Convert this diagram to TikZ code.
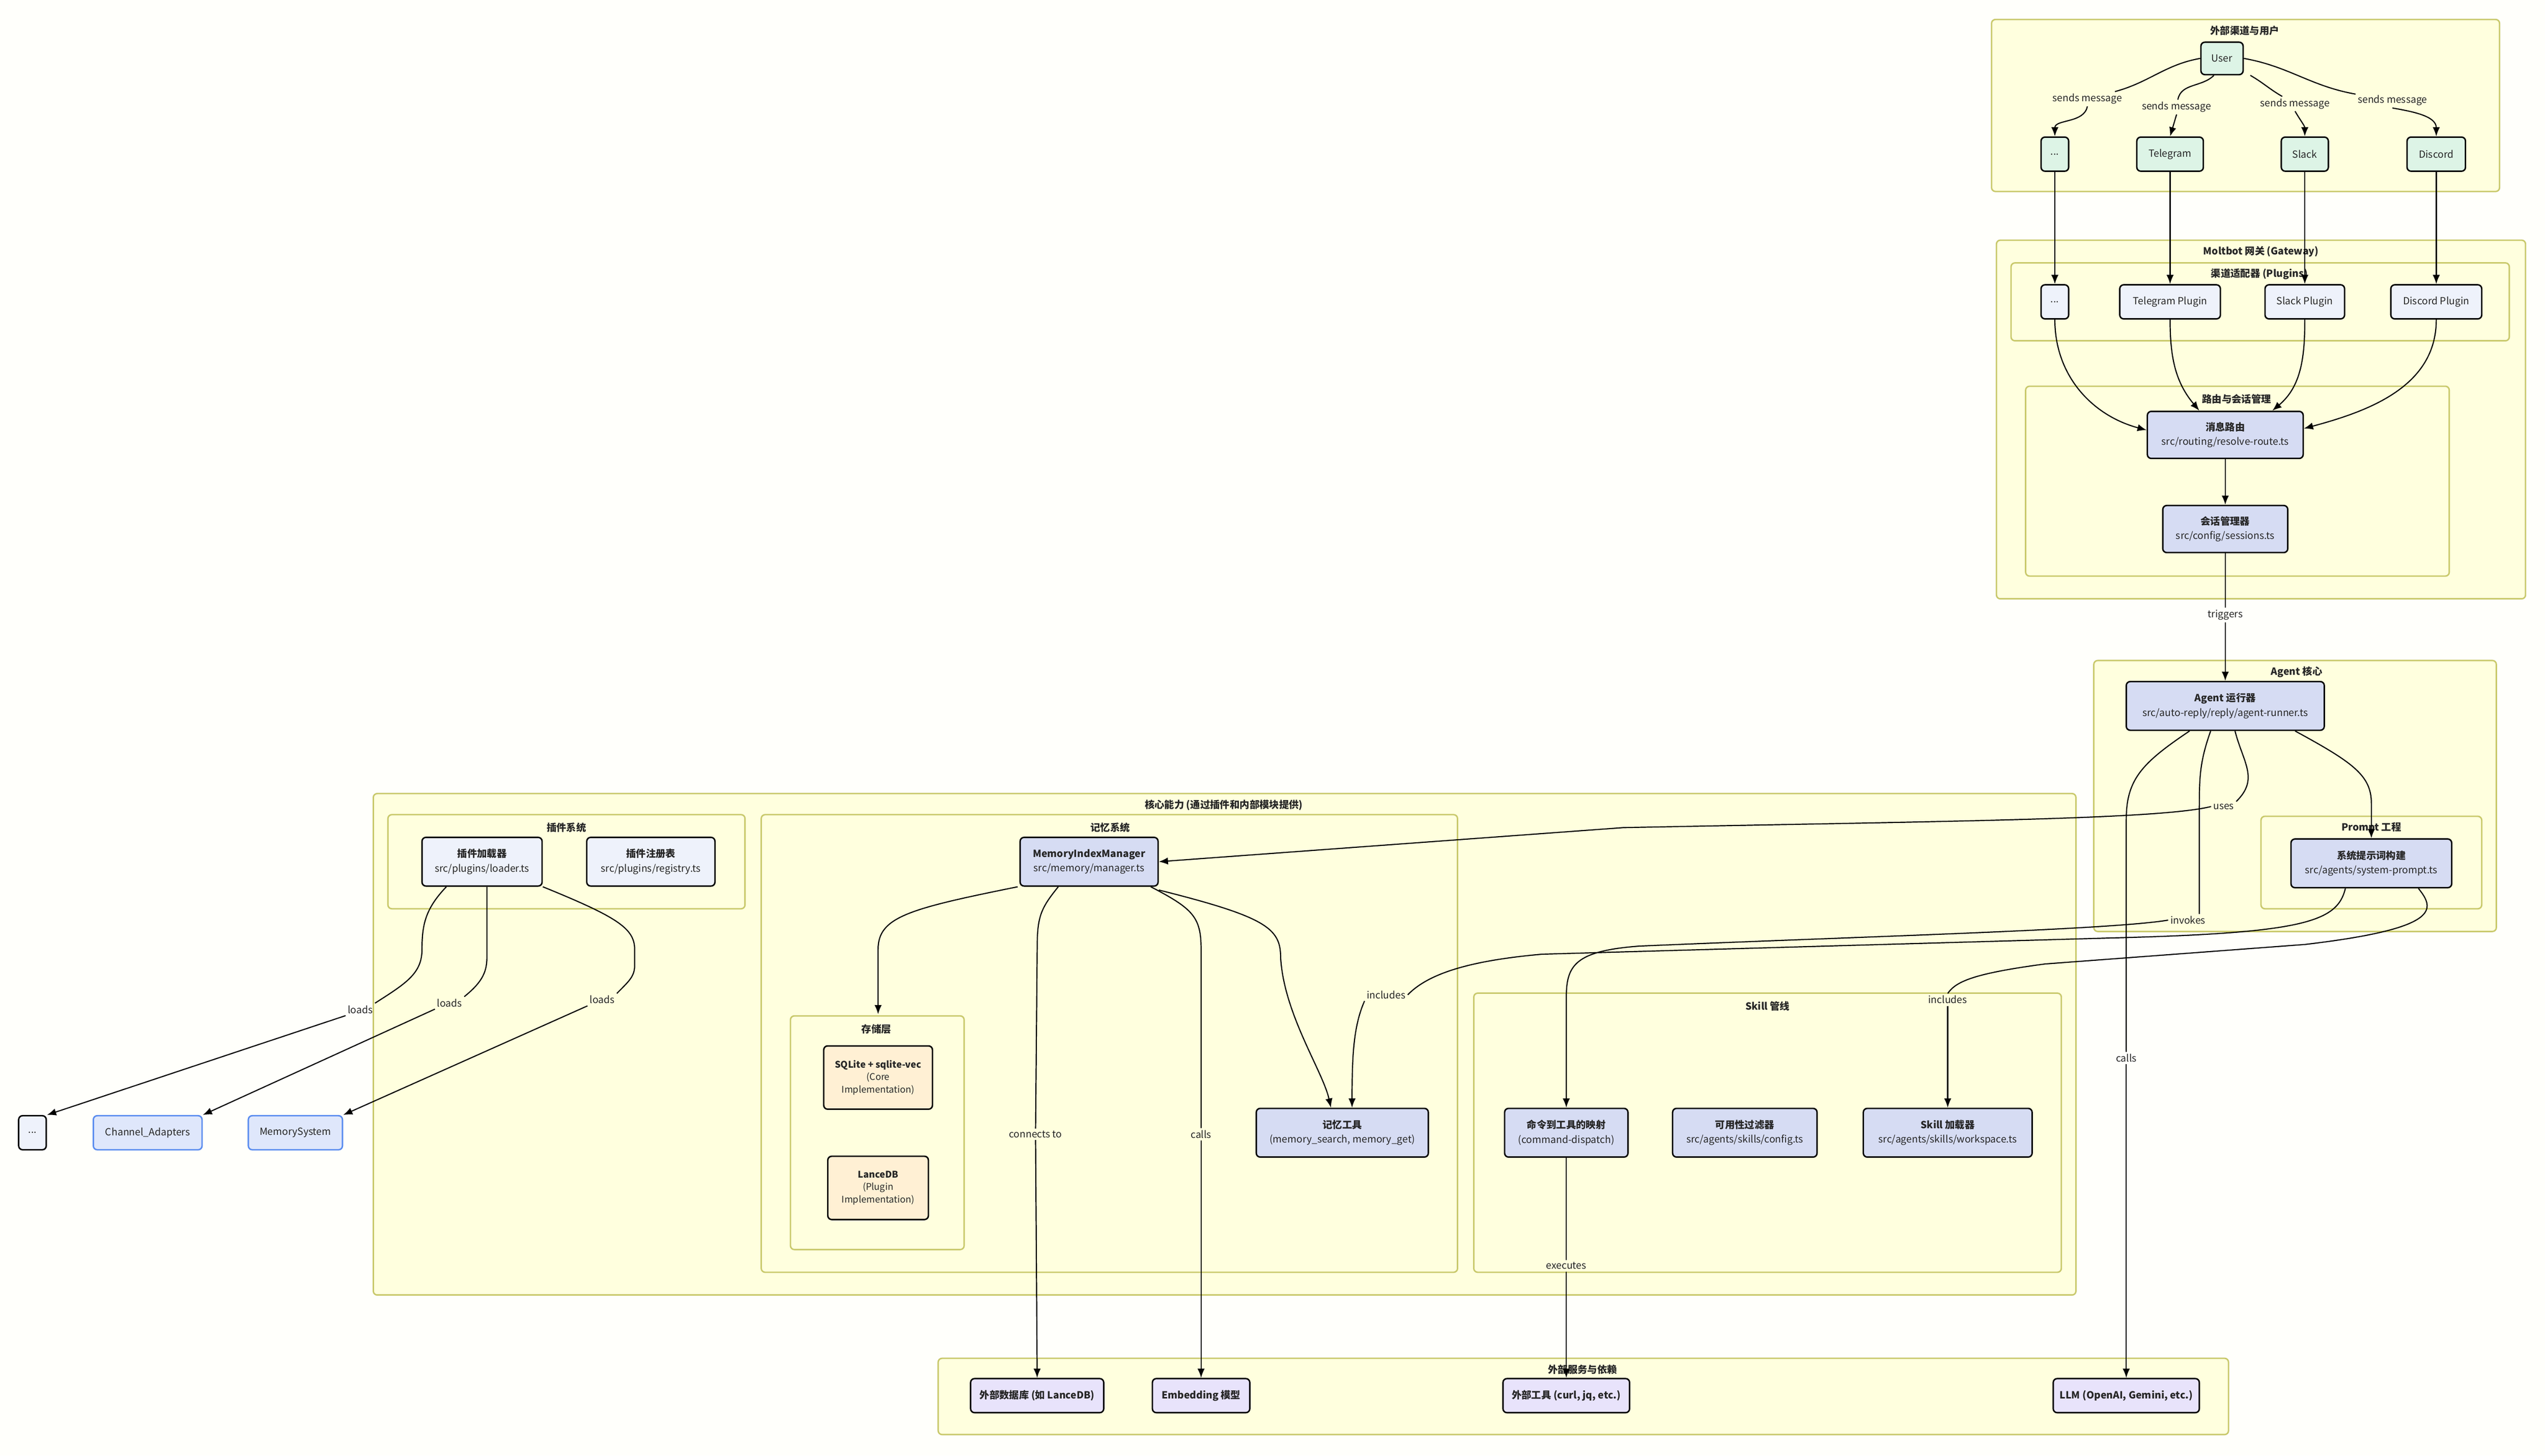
\documentclass[tikz,border=0pt]{standalone}
\usepackage{fontspec}
\setmainfont{Noto Sans CJK SC}
\usetikzlibrary{arrows.meta}
\newlength\uu \setlength\uu{0.043367cm}
\definecolor{clfill}{HTML}{FFFFDE}
\definecolor{clbord}{HTML}{C9C96C}
\definecolor{gfill}{HTML}{DDF4E6}
\definecolor{pfill}{HTML}{EEF2FB}
\definecolor{bfill}{HTML}{D6DCF3}
\definecolor{ofill}{HTML}{FFF0D4}
\definecolor{vfill}{HTML}{E8E3FB}
\definecolor{lbfill}{HTML}{DFE7FB}
\definecolor{lbbord}{HTML}{5B8DEF}
\definecolor{bg}{HTML}{FFFFFB}
\tikzset{
 cl/.style={draw=clbord,fill=clfill,line width=1.1pt,rounded corners=3pt},
 ct/.style={font=\bfseries\fontsize{7.5}{9}\selectfont,text=black!85},
 nd/.style={draw=black,line width=1.1pt,rounded corners=3pt,align=center,inner sep=1pt,font=\fontsize{7.5}{11}\selectfont,text=black!85},
 lbl/.style={font=\fontsize{7.5}{9}\selectfont,inner sep=1.5pt,text=black!85},
 e/.style={line width=0.85pt},
 arr/.style={e,-{Latex[length=7pt,width=5.5pt]}},
}
\begin{document}
\begin{tikzpicture}[x=\uu,y=-\uu]
\fill[bg] (0,0) rectangle (1568,896.96);
\useasboundingbox (0,0) rectangle (1568,896.96);
% clusters
\draw[cl] (1227,12) rectangle (1540,118); \node[ct] at (1383,19) {外部渠道与用户};
\draw[cl] (1230,148) rectangle (1556,369); \node[ct] at (1393,155) {Moltbot 网关 (Gateway)};
\draw[cl] (1239,162) rectangle (1546,210); \node[ct] at (1392,169) {渠道适配器 (Plugins)};
\draw[cl] (1248,238) rectangle (1509,355); \node[ct] at (1378,246) {路由与会话管理};
\draw[cl] (1290,407) rectangle (1538,574); \node[ct] at (1415,414) {Agent 核心};
\draw[cl] (1393,503) rectangle (1529,560); \node[ct] at (1461,510) {Prompt 工程};
\draw[cl] (230,489) rectangle (1279,798); \node[ct] at (754,496) {核心能力 (通过插件和内部模块提供)};
\draw[cl] (239,502) rectangle (459,560); \node[ct] at (349,510) {插件系统};
\draw[cl] (469,502) rectangle (898,784); \node[ct] at (684,510) {记忆系统};
\draw[cl] (487,626) rectangle (594,770); \node[ct] at (540,634) {存储层};
\draw[cl] (908,612) rectangle (1270,784); \node[ct] at (1089,620) {Skill 管线};
\draw[cl] (578,837) rectangle (1373,884); \node[ct] at (975,844) {外部服务与依赖};
\coordinate (storetop) at (541,625);
% nodes
\node[nd,fill=gfill,minimum width=26\uu,minimum height=20\uu] (user) at (1369,36) {User};
\node[nd,fill=gfill,minimum width=17\uu,minimum height=21\uu] (d1) at (1266,95) {...};
\node[nd,fill=gfill,minimum width=41\uu,minimum height=21\uu] (tg) at (1337,95) {Telegram};
\node[nd,fill=gfill,minimum width=29\uu,minimum height=21\uu] (sl) at (1420,95) {Slack};
\node[nd,fill=gfill,minimum width=36\uu,minimum height=21\uu] (dc) at (1501,95) {Discord};
\node[nd,fill=pfill,minimum width=17\uu,minimum height=21\uu] (pd) at (1266,186) {...};
\node[nd,fill=pfill,minimum width=62\uu,minimum height=21\uu] (tgp) at (1337,186) {Telegram Plugin};
\node[nd,fill=pfill,minimum width=49\uu,minimum height=21\uu] (slp) at (1420,186) {Slack Plugin};
\node[nd,fill=pfill,minimum width=56\uu,minimum height=21\uu] (dcp) at (1501,186) {Discord Plugin};
\node[nd,fill=bfill,minimum width=96\uu,minimum height=29\uu] (router) at (1371,268) {\textbf{消息路由}\\src/routing/resolve-route.ts};
\node[nd,fill=bfill,minimum width=77\uu,minimum height=29\uu] (sess) at (1371,326) {\textbf{会话管理器}\\src/config/sessions.ts};
\node[nd,fill=bfill,minimum width=122\uu,minimum height=30\uu] (agent) at (1371,435) {\textbf{Agent 运行器}\\src/auto-reply/reply/agent-runner.ts};
\node[nd,fill=bfill,minimum width=99\uu,minimum height=30\uu] (sp) at (1461,532) {\textbf{系统提示词构建}\\src/agents/system-prompt.ts};
\node[nd,fill=pfill,minimum width=74\uu,minimum height=30\uu] (loader) at (297,531) {\textbf{插件加载器}\\src/plugins/loader.ts};
\node[nd,fill=pfill,minimum width=79\uu,minimum height=30\uu] (reg) at (401,531) {\textbf{插件注册表}\\src/plugins/registry.ts};
\node[nd,fill=bfill,minimum width=85\uu,minimum height=30\uu] (mim) at (671,531) {\textbf{MemoryIndexManager}\\src/memory/manager.ts};
\node[nd,fill=ofill,minimum width=67\uu,minimum height=39\uu,font=\fontsize{7}{9.5}\selectfont] (sqlite) at (541,664) {\textbf{SQLite + sqlite-vec}\\(Core\\Implementation)};
\node[nd,fill=ofill,minimum width=62\uu,minimum height=39\uu,font=\fontsize{7}{9.5}\selectfont] (lance) at (541,732) {\textbf{LanceDB}\\(Plugin\\Implementation)};
\node[nd,fill=bfill,minimum width=106\uu,minimum height=30\uu] (mt) at (827,698) {\textbf{记忆工具}\\(memory\_search, memory\_get)};
\node[nd,fill=bfill,minimum width=76\uu,minimum height=30\uu] (cmd) at (965,698) {\textbf{命令到工具的映射}\\(command-dispatch)};
\node[nd,fill=bfill,minimum width=89\uu,minimum height=30\uu] (avail) at (1075,698) {\textbf{可用性过滤器}\\src/agents/skills/config.ts};
\node[nd,fill=bfill,minimum width=104\uu,minimum height=30\uu] (skl) at (1200,698) {\textbf{Skill 加载器}\\src/agents/skills/workspace.ts};
\node[nd,fill=vfill,minimum width=82\uu,minimum height=21\uu] (edb) at (639,860) {\textbf{外部数据库 (如 LanceDB)}};
\node[nd,fill=vfill,minimum width=60\uu,minimum height=21\uu] (emb) at (740,860) {\textbf{Embedding 模型}};
\node[nd,fill=vfill,minimum width=78\uu,minimum height=21\uu] (tool) at (965,860) {\textbf{外部工具 (curl, jq, etc.)}};
\node[nd,fill=vfill,minimum width=90\uu,minimum height=21\uu] (llm) at (1310,860) {\textbf{LLM (OpenAI, Gemini, etc.)}};
\node[nd,fill=pfill,minimum width=17\uu,minimum height=21\uu] (ldots) at (20,698) {...};
\node[nd,fill=lbfill,draw=lbbord,minimum width=67\uu,minimum height=21\uu] (ca) at (91,698) {Channel\_Adapters};
\node[nd,fill=lbfill,draw=lbbord,minimum width=58\uu,minimum height=21\uu] (ms) at (182,698) {MemorySystem};
% labels
\node[lbl] (s1) at (1286,61) {sends message};
\node[lbl] (s2) at (1341,66) {sends message};
\node[lbl] (s3) at (1414,64) {sends message};
\node[lbl] (s4) at (1474,62) {sends message};
\node[lbl] (trig) at (1371,379) {triggers};
\node[lbl] (uses) at (1370,497) {uses};
\node[lbl] (inv) at (1348,567) {invokes};
\node[lbl] (calls) at (1310,652) {calls};
\node[lbl] (inc1) at (854,613) {includes};
\node[lbl] (inc2) at (1200,616) {includes};
\node[lbl] (load1) at (222,622) {loads};
\node[lbl] (load2) at (277,618) {loads};
\node[lbl] (load3) at (371,616) {loads};
\node[lbl] (conn) at (638,699) {connects to};
\node[lbl] (calls2) at (740,699) {calls};
\node[lbl] (exe) at (965,780) {executes};
% edges top
\draw[e] (user.west) to[out=190,in=15] (s1);
\draw[arr] (s1.south) to[out=-100,in=90] (d1.north);
\draw[e] ([xshift=-5\uu]user.south) to[out=225,in=80] (s2);
\draw[arr] (s2.south) -- (tg.north);
\draw[e] ([xshift=4\uu]user.south east) to[out=-30,in=150] (s3);
\draw[arr] (s3.south) to[out=-60,in=90] (sl.north);
\draw[e] (user.east) to[out=-10,in=170] (s4);
\draw[arr] (s4.south) to[out=-10,in=90] (dc.north);
\draw[arr] (d1) -- (pd);
\draw[arr] (tg) -- (tgp);
\draw[arr] (sl) -- (slp);
\draw[arr] (dc) -- (dcp);
\draw[arr] (pd.south) to[out=-90,in=165] ([yshift=-12\uu]router.north west);
\draw[arr] (tgp.south) to[out=-90,in=130] ([xshift=-16\uu]router.north);
\draw[arr] (slp.south) to[out=-90,in=40] ([xshift=29\uu]router.north);
\draw[arr] (dcp.south) to[out=-90,in=15] ([yshift=-11\uu]router.north east);
\draw[arr] (router) -- (sess);
\draw[e] (sess) -- (trig);
\draw[arr] (trig) -- (agent);
% agent edges
\draw[arr] ([xshift=43\uu]agent.south) .. controls (1450,470) and (1461,478) .. (1461,495) -- (sp.north);
\draw[e] ([xshift=6\uu]agent.south) .. controls (1382,470) and (1392,480) .. (uses.north east);
\draw[arr] (uses.west) .. controls (1330,505) and (1200,506) .. (1000,510) -- (mim.east);
\draw[e] ([xshift=-9\uu]agent.south) .. controls (1355,470) and (1355,480) .. (1355,500) -- ([xshift=7\uu]inv.north);
\draw[arr] (inv.west) .. controls (1300,573) and (1150,577) .. (1010,583) .. controls (970,586) and (965,595) .. (965,615) -- (cmd.north);
\draw[e] ([xshift=-22\uu]agent.south) .. controls (1320,470) and (1310,480) .. (1310,505) -- (calls);
\draw[arr] (calls) -- (llm.north);
\draw[e] ([xshift=-16\uu]sp.south) .. controls (1440,568) and (1420,575) .. (1300,578) -- (950,588) .. controls (905,592) and (880,600) .. (inc1.east);
\draw[arr] (inc1.south west) .. controls (834,632) and (833,650) .. ([xshift=6\uu]mt.north);
\draw[e] ([xshift=29\uu]sp.south) .. controls (1500,560) and (1505,572) .. (1420,582) -- (1260,594) .. controls (1215,600) and (1205,605) .. (inc2.north);
\draw[arr] (inc2) -- (skl.north);
% plugin loader
\draw[e] ([xshift=-22\uu]loader.south) .. controls (262,560) and (260,570) .. (260,585) .. controls (260,600) and (250,606) .. (load1.north east);
\draw[arr] (load1.south west) -- (ldots.north east);
\draw[e] ([xshift=3\uu]loader.south) -- (300,590) .. controls (300,600) and (296,606) .. (load2.north east);
\draw[arr] (load2.south west) -- (ca.north east);
\draw[e] (loader.south east) .. controls (380,565) and (391,572) .. (391,585) -- (391,595) .. controls (391,602) and (387,605) .. (load3.north east);
\draw[arr] (load3.south west) -- (ms.north east);
% memory
\draw[arr] ([xshift=-44\uu]mim.south) .. controls (560,560) and (541,565) .. (541,585) -- (storetop);
\draw[e] ([xshift=-19\uu]mim.south) .. controls (641,560) and (639,565) .. (639,585) -- (conn);
\draw[arr] (conn) -- (edb.north);
\draw[e] ([xshift=38\uu]mim.south) .. controls (735,560) and (740,565) .. (740,585) -- (calls2);
\draw[arr] (calls2) -- (emb.north);
\draw[arr] ([yshift=-2\uu]mim.south east) .. controls (780,565) and (789,572) .. (789,590) .. controls (791,625) and (815,660) .. ([xshift=-7\uu]mt.north);
\draw[e] (cmd) -- (exe);
\draw[arr] (exe) -- (tool);
\end{tikzpicture}
\end{document}
